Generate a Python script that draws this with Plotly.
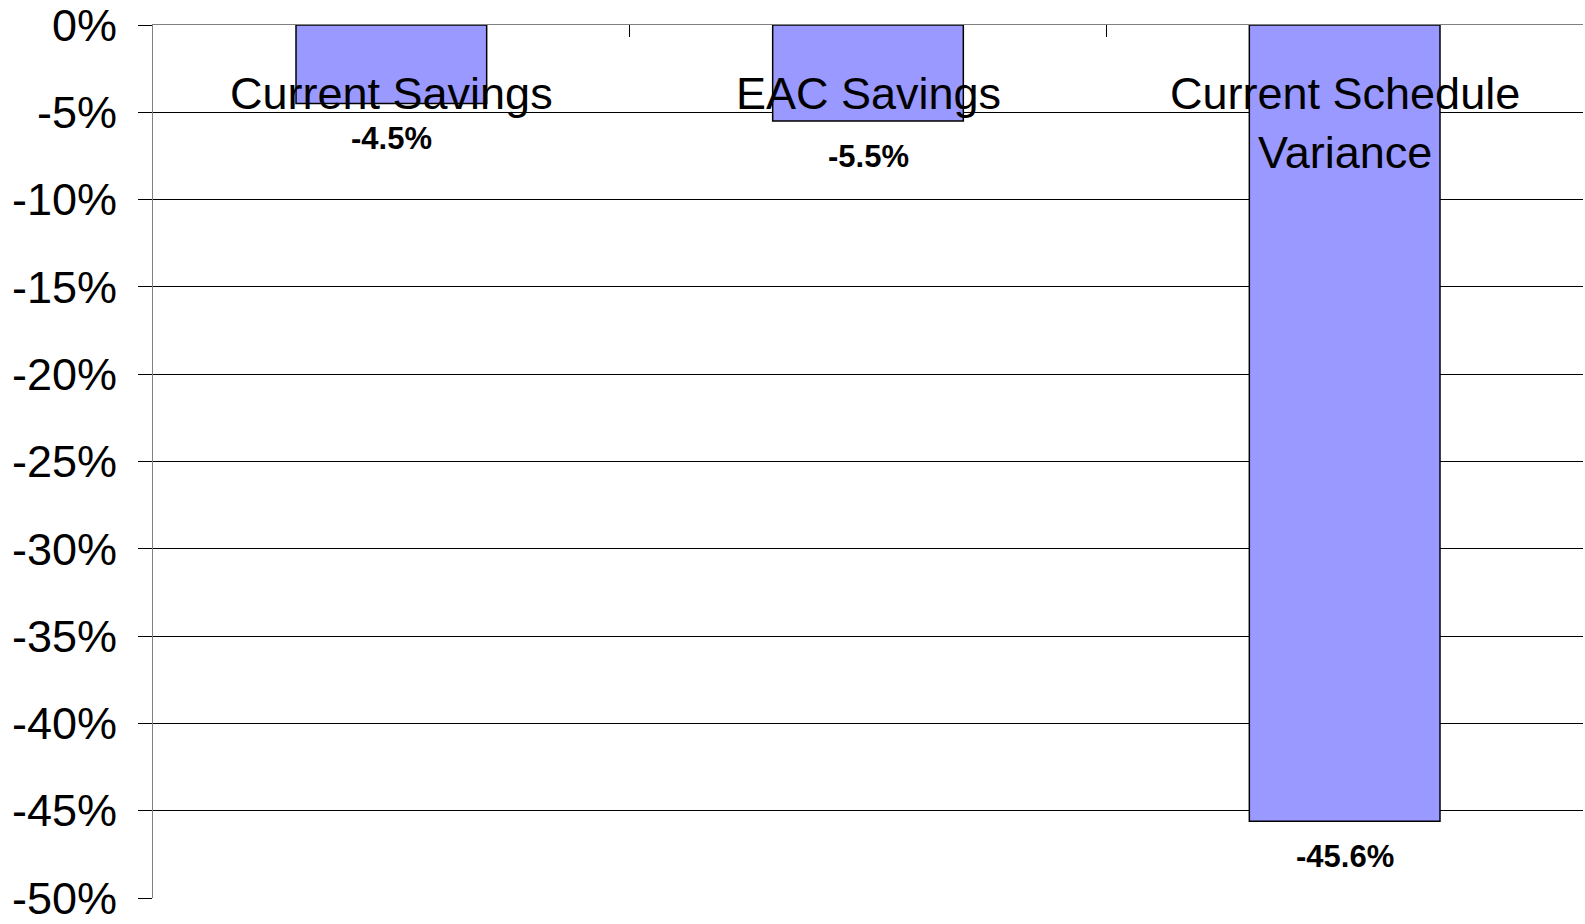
import plotly.graph_objects as go

categories = ["Current Savings", "EAC Savings", "Current Schedule<br>Variance"]
values = [-0.045, -0.055, -0.456]
value_labels = ["-4.5%", "-5.5%", "-45.6%"]
y_ticks = [0, -0.05, -0.10, -0.15, -0.20, -0.25, -0.30, -0.35, -0.40, -0.45, -0.50]
y_tick_labels = ["0%", "-5%", "-10%", "-15%", "-20%", "-25%", "-30%", "-35%", "-40%", "-45%", "-50%"]

FONT = "Liberation Sans, Arial, sans-serif"

fig = go.Figure()
fig.add_trace(go.Bar(
    x=categories, y=values,
    marker=dict(color="#9999FF", line=dict(color="#000000", width=1.5)),
    width=0.4,
    hoverinfo="skip",
))

annotations = []
for c in categories:
    annotations.append(dict(
        x=c, y=0, xref="x", yref="y", text=c, showarrow=False,
        yanchor="top", xanchor="center", yshift=-41,
        font=dict(family=FONT, size=45, color="#000000"),
    ))
for c, v, t in zip(categories, values, value_labels):
    annotations.append(dict(
        x=c, y=v, xref="x", yref="y", text="<b>" + t + "</b>", showarrow=False,
        yanchor="middle", xanchor="center", yshift=-35,
        font=dict(family=FONT, size=31, color="#000000"),
    ))

fig.update_layout(
    width=1585, height=924,
    margin=dict(l=153, r=2, t=25, b=26),
    paper_bgcolor="white", plot_bgcolor="white",
    showlegend=False,
    annotations=annotations,
    xaxis=dict(
        side="top", showline=True, linecolor="#808080", linewidth=1,
        ticks="inside", tickson="boundaries", ticklen=12, tickcolor="#000000",
        showticklabels=False, showgrid=False, zeroline=False, automargin=False,
    ),
    yaxis=dict(
        range=[-0.5, 0], tickvals=y_ticks, ticktext=y_tick_labels,
        showline=True, linecolor="#808080", linewidth=1,
        ticks="outside", ticklen=14, tickcolor="#000000",
        showgrid=True, gridcolor="#000000", gridwidth=1, zeroline=False,
        automargin=False, ticklabeloverflow="allow", ticklabelstandoff=12,
        tickfont=dict(family=FONT, size=45, color="#000000"),
    ),
)

fig.write_html(
    "out.html",
    config={"displayModeBar": False},
    post_script="document.body.style.margin='0';document.body.style.overflow='hidden';",
)
